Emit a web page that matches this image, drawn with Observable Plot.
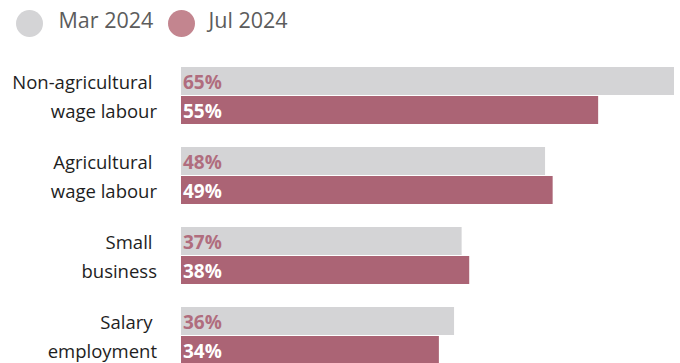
<!DOCTYPE html>
<html>
<head>
<meta charset="utf-8">
<script src="https://cdn.jsdelivr.net/npm/d3@7"></script>
<script src="https://cdn.jsdelivr.net/npm/@observablehq/plot@0.6"></script>
<style>
  html, body { margin: 0; padding: 0; overflow: hidden; background: #fff; }
  body { font-family: "Open Sans", sans-serif; width: 680px; }
  #legend { position: relative; height: 44px; }
  .dot { position: absolute; width: 27px; height: 27px; border-radius: 50%; top: 10px; }
  .lab { position: absolute; font-size: 21.5px; line-height: 21px; top: 9.4px; color: #5c5c5c; white-space: nowrap; }
  svg { display: block; overflow: visible; }
</style>
</head>
<body>
<div id="legend"></div>
<div id="chart"></div>
<script>
const categories = ["Non-agricultural wage labour", "Agricultural wage labour", "Small business", "Salary employment"];
const labelLine1 = ["Non-agricultural", "Agricultural", "Small", "Salary"];
const labelLine2 = ["wage labour", "wage labour", "business", "employment"];
const periods = ["Mar 2024", "Jul 2024"];
const mar2024 = [65, 48, 37, 36];
const jul2024 = [55, 49, 38, 34];

const barColors = ["#d4d4d6", "#ab6475"];
const legendColors = ["#d4d4d6", "#c3858f"];
const valueTextColors = ["#b06d7e", "#ffffff"];

// legend
const legend = document.getElementById("legend");
const legendPos = [{dot: 16, lab: 58.5}, {dot: 167.8, lab: 208.5}];
periods.forEach((p, i) => {
  const d = document.createElement("div");
  d.className = "dot";
  d.style.left = legendPos[i].dot + "px";
  d.style.background = legendColors[i];
  legend.appendChild(d);
  const t = document.createElement("div");
  t.className = "lab";
  t.style.left = legendPos[i].lab + "px";
  t.textContent = p;
  legend.appendChild(t);
});

const rows = [];
categories.forEach((c, i) => {
  rows.push({category: c, period: periods[0], value: mar2024[i]});
  rows.push({category: c, period: periods[1], value: jul2024[i]});
});
const labels = categories.map((c, i) => ({category: c, l1: labelLine1[i], l2: labelLine2[i]}));

const chart = Plot.plot({
  width: 680,
  height: 321,
  marginTop: 21,
  marginBottom: 0,
  marginLeft: 181,
  marginRight: 6,
  style: {fontFamily: "Open Sans, sans-serif", overflow: "visible"},
  x: {domain: [0, 65], axis: null},
  y: {domain: periods, axis: null, paddingInner: 0.043, paddingOuter: 0},
  fy: {domain: categories, axis: null, paddingInner: 0.269, paddingOuter: 0},
  color: {domain: periods, range: barColors},
  marks: [
    Plot.barX(rows, {x: "value", y: "period", fy: "category", fill: "period"}),
    Plot.text(rows, {
      x: 0, y: "period", fy: "category",
      text: d => d.value + "%",
      textAnchor: "start", dx: 1.5, dy: 1.3,
      fontSize: 19, fontWeight: "bold",
      fill: d => valueTextColors[periods.indexOf(d.period)]
    }),
    Plot.text(labels, {
      frameAnchor: "left", y: () => periods[0], fy: "category",
      text: "l1", textAnchor: "end", dx: -29, dy: 1.5,
      fontSize: 18.5, fill: "#1e1e1e"
    }),
    Plot.text(labels, {
      frameAnchor: "left", y: () => periods[1], fy: "category",
      text: "l2", textAnchor: "end", dx: -24.5, dy: 1.5,
      fontSize: 18.5, fill: "#1e1e1e"
    })
  ]
});
document.getElementById("chart").appendChild(chart);
</script>
</body>
</html>
